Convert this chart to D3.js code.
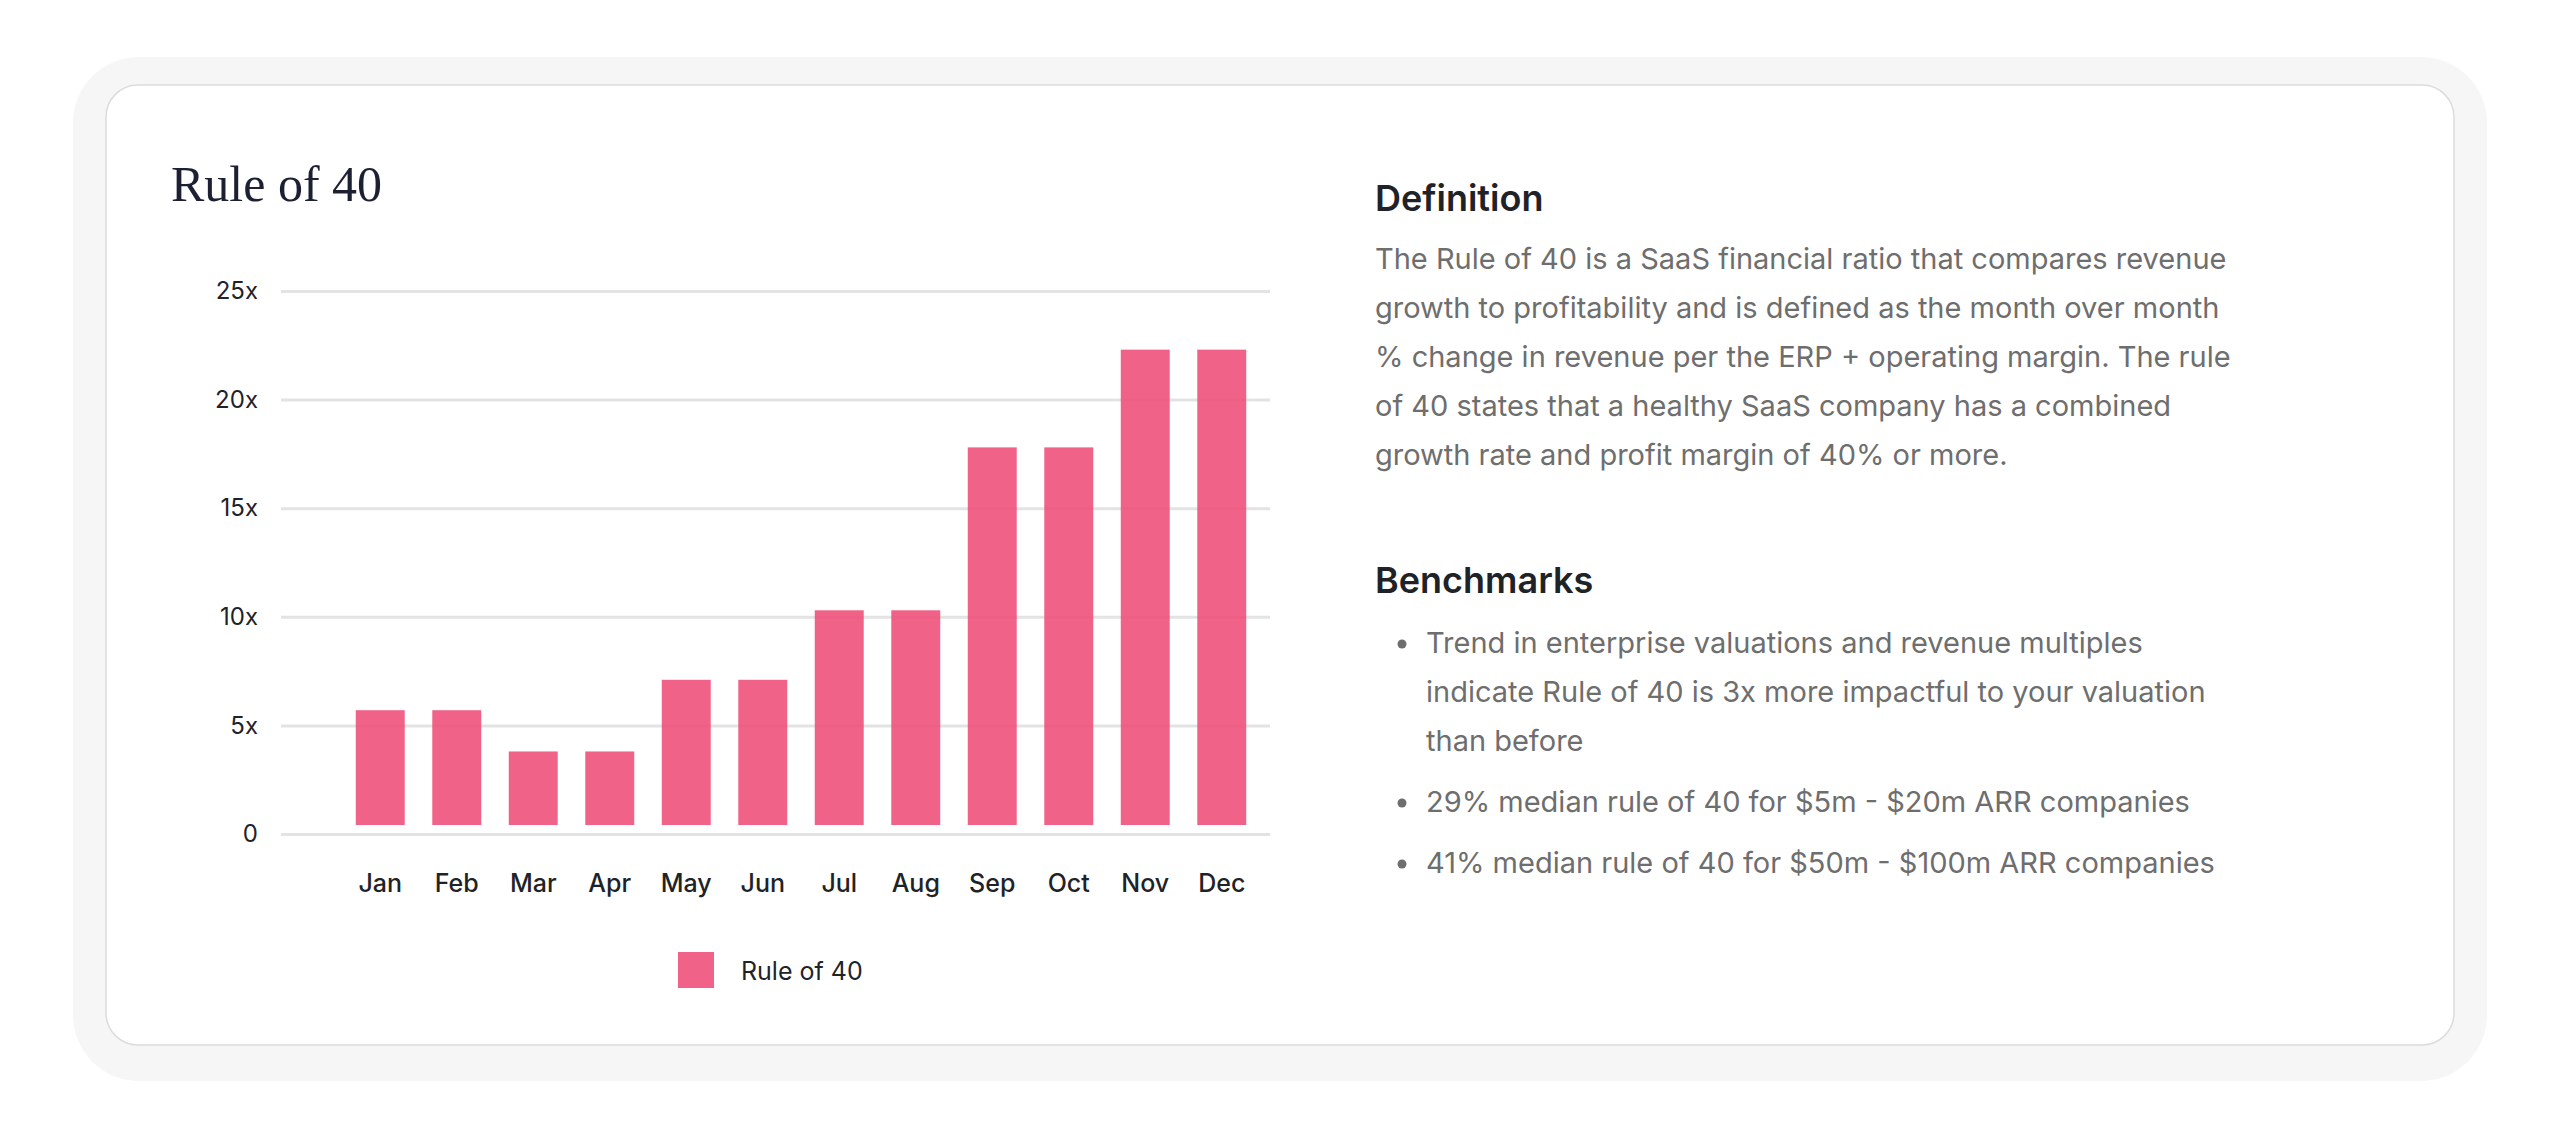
<!DOCTYPE html>
<html>
<head>
<meta charset="utf-8">
<script src="https://cdn.jsdelivr.net/npm/d3@7"></script>
<style>
  body { margin: 0; background: #fff; }
  svg { display: block; }
</style>
</head>
<body>
<svg id="chart" width="2560" height="1139"></svg>
<script>
// Chart data
const months = ['Jan', 'Feb', 'Mar', 'Apr', 'May', 'Jun', 'Jul', 'Aug', 'Sep', 'Oct', 'Nov', 'Dec'];
const ruleOf40 = [5.7, 5.7, 3.8, 3.8, 7.1, 7.1, 10.3, 10.3, 17.8, 17.8, 22.3, 22.3];
const yTicks = [0, 5, 10, 15, 20, 25];

const definitionLines = [
    'The Rule of 40 is a SaaS financial ratio that compares revenue',
    'growth to profitability and is defined as the month over month',
    '% change in revenue per the ERP + operating margin. The rule',
    'of 40 states that a healthy SaaS company has a combined',
    'growth rate and profit margin of 40% or more.'
];
const benchmarkItems = [
    ['Trend in enterprise valuations and revenue multiples',
     'indicate Rule of 40 is 3x more impactful to your valuation',
     'than before'],
    ['29% median rule of 40 for $5m - $20m ARR companies'],
    ['41% median rule of 40 for $50m - $100m ARR companies']
];

const svg = d3.select('#chart');
const sans = 'Inter, "Noto Sans", sans-serif';

// Card background with soft halo
svg.append('rect')
    .attr('x', 73).attr('y', 57).attr('width', 2414).attr('height', 1024)
    .attr('rx', 66).attr('fill', '#f6f6f6');
svg.append('rect')
    .attr('x', 106).attr('y', 85).attr('width', 2348).attr('height', 960)
    .attr('rx', 32).attr('fill', '#fff')
    .attr('stroke', '#dcdcdc').attr('stroke-width', 1.5);

// Title
svg.append('text')
    .attr('x', 171).attr('y', 201)
    .attr('fill', '#1d2033')
    .style('font-family', '"Liberation Serif", "DejaVu Serif", serif')
    .style('font-size', '50px')
    .text('Rule of 40');

// Scales
const x = d3.scaleBand()
    .domain(months)
    .range([342, 1260])
    .paddingInner(0.36)
    .paddingOuter(0.18);

const y = d3.scaleLinear()
    .domain([0, 25])
    .range([834, 291]);

// Grid lines
svg.append('g')
    .attr('transform', 'translate(281,0)')
    .call(d3.axisLeft(y).tickValues(yTicks).tickSize(-989).tickFormat(''))
    .call(g => g.select('.domain').remove())
    .selectAll('line')
    .attr('stroke', '#e3e3e3')
    .attr('stroke-width', 3);

// Y tick labels
svg.append('g')
    .attr('transform', 'translate(281,0)')
    .call(d3.axisLeft(y).tickValues(yTicks).tickSize(0).tickPadding(23)
        .tickFormat(d => d === 0 ? '0' : d + 'x'))
    .call(g => g.select('.domain').remove())
    .selectAll('text')
    .attr('fill', '#1f2328')
    .style('font-family', sans)
    .style('font-size', '24px');

// Bars (they sit slightly above the baseline in the reference)
const barLift = 9;
svg.append('g')
    .selectAll('rect')
    .data(ruleOf40)
    .join('rect')
    .attr('x', (d, i) => x(months[i]))
    .attr('width', x.bandwidth())
    .attr('y', d => y(d))
    .attr('height', d => y(0) - barLift - y(d))
    .attr('fill', '#ef4c77')
    .attr('fill-opacity', 0.88);

// Month labels
svg.append('g')
    .attr('transform', 'translate(0,834)')
    .call(d3.axisBottom(x).tickSize(0).tickPadding(40))
    .call(g => g.select('.domain').remove())
    .selectAll('text')
    .attr('fill', '#1f2328')
    .style('font-family', sans)
    .style('font-weight', 500)
    .style('font-size', '25px');

// Legend
svg.append('rect')
    .attr('x', 678).attr('y', 952).attr('width', 36).attr('height', 36)
    .attr('fill', '#ef4c77').attr('fill-opacity', 0.88);
svg.append('text')
    .attr('x', 741).attr('y', 980)
    .attr('fill', '#1f2328')
    .style('font-family', sans)
    .style('font-size', '25px')
    .text('Rule of 40');

// Right-hand text panel
svg.append('text')
    .attr('x', 1375).attr('y', 211)
    .attr('fill', '#1f2328')
    .style('font-family', sans)
    .style('font-weight', 600)
    .style('font-size', '36px')
    .text('Definition');

svg.append('g')
    .selectAll('text')
    .data(definitionLines)
    .join('text')
    .attr('x', 1375)
    .attr('y', (d, i) => 269 + i * 49)
    .attr('fill', '#6e6e6e')
    .style('font-family', sans)
    .style('font-size', '29px')
    .text(d => d);

svg.append('text')
    .attr('x', 1375).attr('y', 593)
    .attr('fill', '#1f2328')
    .style('font-family', sans)
    .style('font-weight', 600)
    .style('font-size', '36px')
    .text('Benchmarks');

let lineY = 653;
benchmarkItems.forEach((item, idx) => {
    if (idx > 0) lineY += 12;
    svg.append('circle')
        .attr('cx', 1402).attr('cy', lineY - 9).attr('r', 4.5)
        .attr('fill', '#6e6e6e');
    item.forEach(line => {
        svg.append('text')
            .attr('x', 1426).attr('y', lineY)
            .attr('fill', '#6e6e6e')
            .style('font-family', sans)
            .style('font-size', '29px')
            .text(line);
        lineY += 49;
    });
});
</script>
</body>
</html>
